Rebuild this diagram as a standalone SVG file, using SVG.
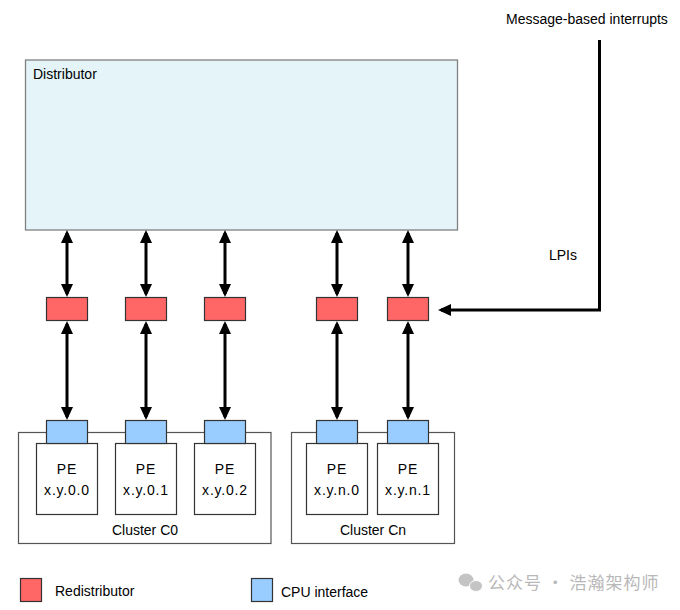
<svg xmlns="http://www.w3.org/2000/svg" width="680" height="610" viewBox="0 0 680 610">
  <style>
    text { font-family: "Liberation Sans", Arial, sans-serif; font-size: 14px; fill: #000; }
    .dist { fill: #e4f4f8; stroke: #808080; stroke-width: 1.3; }
    .redist { fill: #ff6666; stroke: #333; stroke-width: 1.2; }
    .cpu { fill: #99ccff; stroke: #333; stroke-width: 1.2; }
    .cluster { fill: #fff; stroke: #555; stroke-width: 1.2; }
    .pe { fill: #fff; stroke: #333; stroke-width: 1.2; }
    .conn { fill: none; stroke: #000; stroke-width: 3; }
    .c { text-anchor: middle; }
    .pel { letter-spacing: 0.8px; }
    .wm { font-family: "Noto Sans CJK SC", sans-serif; font-size: 17px; fill: #b8b8b8; letter-spacing: 1px; }
  </style>
  <defs>
    <marker id="ah" viewBox="0 0 13 12" refX="10" refY="6" markerWidth="13" markerHeight="12" markerUnits="userSpaceOnUse" orient="auto-start-reverse">
      <path d="M0,0 L13,6 L0,12 z" fill="#000"/>
    </marker>
  </defs>

  <rect width="680" height="610" fill="#fff"/>

  <g id="distributor">
    <rect class="dist" x="25.5" y="60" width="432" height="170"/>
    <text x="33" y="79">Distributor</text>
  </g>

  <g id="cluster-c0">
    <rect class="cluster" x="18.5" y="432.5" width="252.5" height="111"/>
    <text class="c" x="145" y="535">Cluster C0</text>
  </g>
  <g id="cluster-cn">
    <rect class="cluster" x="291.5" y="432.5" width="163" height="111"/>
    <text class="c" x="373" y="535">Cluster Cn</text>
  </g>

  <g id="pe-x.y.0.0">
    <rect class="pe" x="36.5" y="443.5" width="61" height="71"/>
    <text class="c pel" x="67" y="474">PE</text>
    <text class="c pel" x="67" y="495">x.y.0.0</text>
  </g>
  <g id="pe-x.y.0.1">
    <rect class="pe" x="115.5" y="443.5" width="61" height="71"/>
    <text class="c pel" x="146" y="474">PE</text>
    <text class="c pel" x="146" y="495">x.y.0.1</text>
  </g>
  <g id="pe-x.y.0.2">
    <rect class="pe" x="194.5" y="443.5" width="61" height="71"/>
    <text class="c pel" x="225" y="474">PE</text>
    <text class="c pel" x="225" y="495">x.y.0.2</text>
  </g>
  <g id="pe-x.y.n.0">
    <rect class="pe" x="306.5" y="443.5" width="61" height="71"/>
    <text class="c pel" x="337" y="474">PE</text>
    <text class="c pel" x="337" y="495">x.y.n.0</text>
  </g>
  <g id="pe-x.y.n.1">
    <rect class="pe" x="377.5" y="443.5" width="61" height="71"/>
    <text class="c pel" x="408" y="474">PE</text>
    <text class="c pel" x="408" y="495">x.y.n.1</text>
  </g>

  <g id="cpu-if-0"><rect class="cpu" x="46.5" y="420.5" width="41" height="23"/></g>
  <g id="cpu-if-1"><rect class="cpu" x="125.5" y="420.5" width="41" height="23"/></g>
  <g id="cpu-if-2"><rect class="cpu" x="204.5" y="420.5" width="41" height="23"/></g>
  <g id="cpu-if-3"><rect class="cpu" x="316.5" y="420.5" width="41" height="23"/></g>
  <g id="cpu-if-4"><rect class="cpu" x="387.5" y="420.5" width="41" height="23"/></g>

  <g id="redist-0"><rect class="redist" x="46.5" y="297.5" width="41" height="23"/></g>
  <g id="redist-1"><rect class="redist" x="125.5" y="297.5" width="41" height="23"/></g>
  <g id="redist-2"><rect class="redist" x="204.5" y="297.5" width="41" height="23"/></g>
  <g id="redist-3"><rect class="redist" x="316.5" y="297.5" width="41" height="23"/></g>
  <g id="redist-4"><rect class="redist" x="387.5" y="297.5" width="41" height="23"/></g>

  <g id="connectors">
    <line class="conn" x1="67" y1="233" x2="67" y2="294" marker-start="url(#ah)" marker-end="url(#ah)"/>
    <line class="conn" x1="146" y1="233" x2="146" y2="294" marker-start="url(#ah)" marker-end="url(#ah)"/>
    <line class="conn" x1="225" y1="233" x2="225" y2="294" marker-start="url(#ah)" marker-end="url(#ah)"/>
    <line class="conn" x1="337" y1="233" x2="337" y2="294" marker-start="url(#ah)" marker-end="url(#ah)"/>
    <line class="conn" x1="408" y1="233" x2="408" y2="294" marker-start="url(#ah)" marker-end="url(#ah)"/>

    <line class="conn" x1="67" y1="324" x2="67" y2="417" marker-start="url(#ah)" marker-end="url(#ah)"/>
    <line class="conn" x1="146" y1="324" x2="146" y2="417" marker-start="url(#ah)" marker-end="url(#ah)"/>
    <line class="conn" x1="225" y1="324" x2="225" y2="417" marker-start="url(#ah)" marker-end="url(#ah)"/>
    <line class="conn" x1="337" y1="324" x2="337" y2="417" marker-start="url(#ah)" marker-end="url(#ah)"/>
    <line class="conn" x1="408" y1="324" x2="408" y2="417" marker-start="url(#ah)" marker-end="url(#ah)"/>

    <polyline class="conn" points="599.5,40 599.5,310 441,310" marker-end="url(#ah)"/>
  </g>

  <g id="labels">
    <text x="506" y="24">Message-based interrupts</text>
    <text x="549" y="260">LPIs</text>
  </g>

  <g id="legend">
    <rect class="redist" x="20.5" y="578.5" width="21" height="23"/>
    <text x="55" y="596">Redistributor</text>
    <rect class="cpu" x="251.5" y="578.5" width="21" height="23"/>
    <text x="281" y="597">CPU interface</text>
  </g>

  <g id="watermark">
    <ellipse cx="466" cy="580" rx="7.5" ry="6.5" fill="#c4c4c4"/>
    <ellipse cx="476" cy="586" rx="6.5" ry="5.5" fill="#c4c4c4" stroke="#fff" stroke-width="1"/>
    <text class="wm" x="488" y="589">公众号 · 浩瀚架构师</text>
  </g>
</svg>
